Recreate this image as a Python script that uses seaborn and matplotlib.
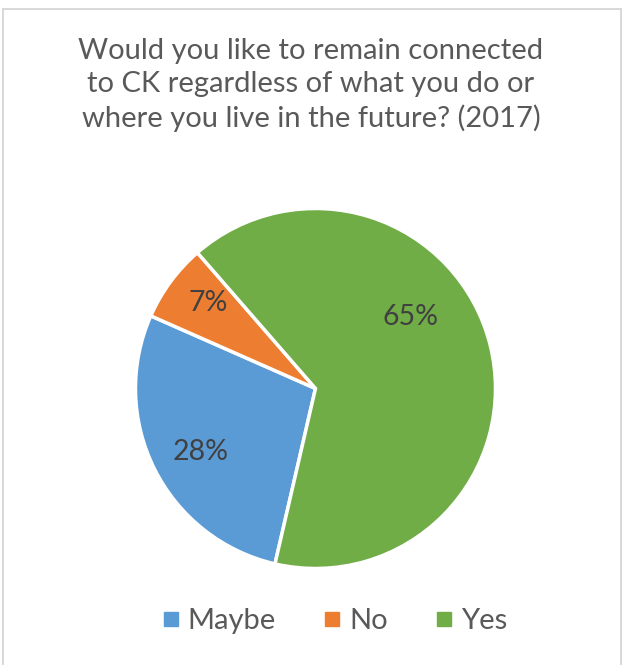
import matplotlib
matplotlib.use("Agg")
import matplotlib.pyplot as plt
from matplotlib.lines import Line2D
from matplotlib.patches import Rectangle
import numpy as np
import seaborn as sns

# Survey responses (percent of respondents)
categories = ["Maybe", "No", "Yes"]
shares = [28, 7, 65]
colors = ["#5B9BD5", "#ED7D31", "#70AD47"]
title = ("Would you like to remain connected\n"
         "to CK regardless of what you do or\n"
         "where you live in the future? (2017)")

sns.set_theme(style="white")
plt.rcParams["font.family"] = ["Lato", "DejaVu Sans"]

fig = plt.figure(figsize=(6.22, 6.65), dpi=100)
ax = fig.add_axes([0.2178, 0.1451, 0.5788, 0.5414])

wedges, _ = ax.pie(
    shares,
    colors=colors,
    startangle=-103,
    counterclock=False,
    radius=1.0,
    wedgeprops=dict(edgecolor="white", linewidth=2.5),
)
ax.set_xlim(-1, 1)
ax.set_ylim(-1, 1)
ax.set_aspect("equal")
ax.axis("off")

# data labels: (radius fraction, angle in degrees) inside each wedge
label_spots = [(0.73, -151), (0.76, 141.5), (0.66, 37)]
for val, (r, a) in zip(shares, label_spots):
    t = np.deg2rad(a)
    ax.text(r * np.cos(t), r * np.sin(t), f"{val}%", ha="center", va="center",
            fontsize=20.5, color="#404040")

fig.text(0.5, 1 - 38 / 665, title, ha="center", va="top", fontsize=21,
         color="#595959", linespacing=1.32)

handles = [Line2D([], [], marker="s", linestyle="none", markersize=9.4,
                  markerfacecolor=c, markeredgecolor=c) for c in colors]
fig.legend(handles, categories, loc="center",
           bbox_to_anchor=(335.5 / 622, 1 - 621 / 665),
           ncol=3, frameon=False, fontsize=21, labelcolor="#595959",
           handletextpad=0.33, columnspacing=1.68, handlelength=0.5,
           borderpad=0, borderaxespad=0)

fig.add_artist(Rectangle((2.5 / 622, -0.01), 618.5 / 622, 0.01 + 1 - 9.5 / 665,
                         transform=fig.transFigure, fill=False,
                         edgecolor="#D9D9D9", linewidth=1.44))

fig.savefig("out.png", dpi=100)
